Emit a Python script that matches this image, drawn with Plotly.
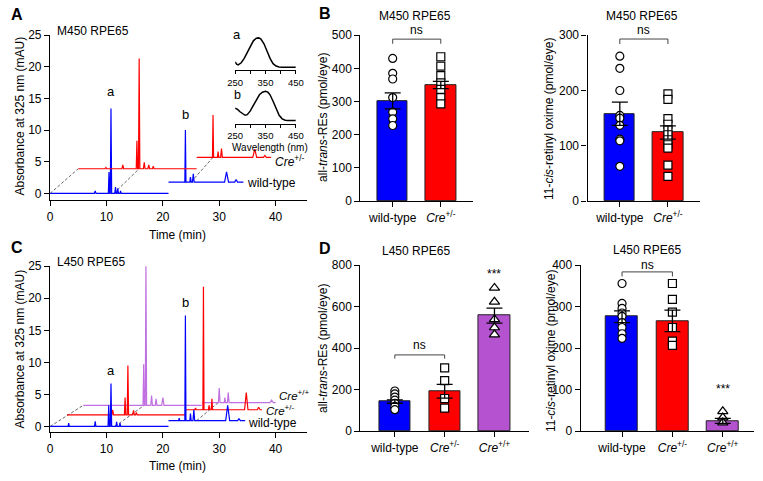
import plotly.graph_objects as go

W, H = 763, 481
FONT = "Liberation Sans, Arial, sans-serif"
BLUE = "#0000ff"
RED = "#ff0000"
PURPLE_BAR = "#b452d0"
PURPLE_LINE = "#c070e0"

# ---------------- Chromatogram data (time min, absorbance mAU) ----------------
# segment: start, end, baseline, peaks [(time, top, halfwidth)]
A_wt_seg1 = (0.0, 21.0, 0.0, [(8.0, 0.4, 0.15), (10.45, 3.4, 0.12), (10.8, 13.4, 0.12),
                               (11.6, 1.0, 0.12), (12.0, 0.8, 0.12), (12.5, 0.4, 0.12)])
A_wt_seg2 = (21.0, 34.3, 1.8, [(24.0, 10.0, 0.1), (24.9, 2.6, 0.12), (25.4, 3.1, 0.15),
                                (31.3, 3.4, 0.35), (33.0, 2.2, 0.25)])
A_cre_seg1 = (5.0, 26.0, 3.9, [(9.9, 4.1, 0.15), (12.9, 4.5, 0.15), (15.4, 8.3, 0.12), (15.8, 21.3, 0.12),
                                (16.7, 4.9, 0.15), (17.5, 4.5, 0.15), (18.3, 4.3, 0.15)])
A_cre_seg2 = (26.0, 39.2, 5.7, [(28.9, 12.4, 0.1), (29.8, 6.6, 0.12), (30.4, 7.1, 0.15),
                                 (36.3, 7.0, 0.35), (38.1, 6.0, 0.25)])

C_wt_seg1 = (0.0, 21.0, 0.0, [(3.3, 0.5, 0.1), (8.0, 0.8, 0.12), (10.4, 3.3, 0.12), (10.8, 6.7, 0.12),
                               (11.8, 0.7, 0.12), (12.4, 0.5, 0.12)])
C_wt_seg2 = (21.0, 34.6, 0.9, [(22.9, 1.3, 0.1), (24.0, 17.3, 0.1), (24.9, 2.0, 0.12), (25.5, 2.6, 0.15),
                                (31.5, 3.3, 0.35), (33.5, 1.2, 0.25)])
C_het_seg1 = (3.0, 24.0, 1.8, [(11.1, 2.6, 0.15), (13.3, 4.5, 0.12), (13.8, 9.5, 0.12),
                                (14.8, 2.5, 0.15), (15.3, 2.2, 0.15)])
C_het_seg2 = (24.0, 37.6, 2.6, [(25.8, 2.9, 0.12), (27.2, 21.8, 0.1), (28.2, 3.3, 0.12), (28.7, 4.3, 0.12),
                                 (34.8, 5.3, 0.3), (37.0, 3.0, 0.25)])
C_hom_seg1 = (5.9, 26.9, 3.3, [(16.6, 9.7, 0.12), (17.0, 25.3, 0.12), (18.0, 4.8, 0.15),
                                (18.8, 4.3, 0.15), (20.0, 4.5, 0.2)])
C_hom_seg2 = (26.9, 40.0, 3.7, [(30.0, 6.0, 0.15), (31.0, 4.5, 0.12), (31.6, 5.3, 0.15), (39.3, 4.1, 0.3)])

# dashed guide lines (time, absorbance) pairs
A_guides = [((0.0, 0.0), (5.0, 3.9)), ((11.3, 0.0), (15.8, 3.9)), ((25.0, 1.8), (28.9, 5.7))]
C_guides = [((0.0, 0.0), (5.9, 3.3)), ((11.5, 0.0), (16.7, 3.3)), ((26.0, 0.9), (29.8, 3.7))]

time_ticks = [0, 10, 20, 30, 40]
abs_ticks = [0, 5, 10, 15, 20, 25]

# inset spectra (wavelength nm, normalized absorbance)
wl_a = [250, 255, 260, 270, 280, 290, 300, 310, 320, 328, 335, 345, 355, 365, 375, 385, 395, 405, 450]
sp_a = [0.18, 0.1, 0.08, 0.15, 0.3, 0.5, 0.72, 0.9, 0.99, 1.0, 0.96, 0.8, 0.55, 0.3, 0.12, 0.04, 0.01, 0.0, 0.0]
wl_b = [250, 258, 266, 275, 283, 290, 300, 310, 320, 330, 340, 350, 358, 365, 375, 385, 395, 405, 415, 425, 450]
sp_b = [0.42, 0.38, 0.3, 0.22, 0.18, 0.2, 0.33, 0.52, 0.72, 0.88, 0.97, 1.0, 0.97, 0.88, 0.66, 0.4, 0.18, 0.06, 0.01, 0.0, 0.0]
wl_ticks = [250, 350, 450]

# ---------------- Bar chart data ----------------
cats2 = ["wild-type", "<i>Cre</i><sup>+/-</sup>"]
cats3 = ["wild-type", "<i>Cre</i><sup>+/-</sup>", "<i>Cre</i><sup>+/+</sup>"]

B_re_mean = [302, 350]
B_re_sem = [24, 11]
B_re_pts = [[430, 385, 368, 312, 268, 248, 228],
            [435, 407, 378, 356, 337, 312, 293]]
B_ox_mean = [158, 124]
B_ox_sem = [21, 12]
B_ox_pts = [[262, 240, 200, 155, 150, 137, 112, 109, 63],
            [194, 184, 149, 139, 129, 120, 111, 102, 96, 65, 45]]
D_re_mean = [143, 193, 557]
D_re_sem = [8, 33, 36]
D_re_pts = [[194, 180, 165, 150, 135, 120, 104],
            [306, 244, 158, 112],
            [691, 624, 539, 500, 466]]
D_ox_mean = [276, 266, 25]
D_ox_sem = [14, 26, 6]
D_ox_pts = [[356, 308, 296, 285, 277, 262, 250, 235, 224],
            [356, 318, 287, 250, 217, 207],
            [48, 33, 21]]

# ---------------- helpers ----------------
def px(x):
    return x / W

def py(y):
    return 1 - y / H

def seg_xy(seg):
    start, end, base, peaks = seg
    xs, ys = [start], [base]
    for t, top, hw in peaks:
        xs += [t - hw, t, t + hw]
        ys += [base, top, base]
    xs.append(end)
    ys.append(base)
    return xs, ys

fig = go.Figure()
ann = []

def add_line(xs, ys, color, xa, ya, width=1.2, dash=None):
    fig.add_trace(go.Scatter(x=xs, y=ys, mode="lines", xaxis=xa, yaxis=ya,
                             line=dict(color=color, width=width, dash=dash),
                             hoverinfo="skip", showlegend=False))

# Panel A chromatogram
for (p0, p1) in A_guides:
    add_line([p0[0], p1[0]], [p0[1], p1[1]], "#555555", "x", "y", width=0.9, dash="3px,2px")
for seg, col in [(A_wt_seg1, BLUE), (A_wt_seg2, BLUE), (A_cre_seg1, RED), (A_cre_seg2, RED)]:
    xs, ys = seg_xy(seg)
    add_line(xs, ys, col, "x", "y")
# Panel C chromatogram
for (p0, p1) in C_guides:
    add_line([p0[0], p1[0]], [p0[1], p1[1]], "#555555", "x2", "y2", width=0.9, dash="3px,2px")
for seg, col in [(C_hom_seg1, PURPLE_LINE), (C_hom_seg2, PURPLE_LINE), (C_het_seg1, RED),
                 (C_het_seg2, RED), (C_wt_seg1, BLUE), (C_wt_seg2, BLUE)]:
    xs, ys = seg_xy(seg)
    add_line(xs, ys, col, "x2", "y2")
# insets
add_line(wl_a, sp_a, "black", "x3", "y3", width=1.5)
add_line(wl_b, sp_b, "black", "x4", "y4", width=1.5)

# bar panels
def bar_panel(xa, ya, means, sems, pts, colors, symbols):
    n = len(means)
    xs = list(range(n))
    fig.add_trace(go.Bar(x=xs, y=means, xaxis=xa, yaxis=ya, width=0.63,
                         marker=dict(color=colors, line=dict(color="#222222", width=1)),
                         hoverinfo="skip", showlegend=False))
    for i in range(n):
        fig.add_trace(go.Scatter(x=[i] * len(pts[i]), y=pts[i], mode="markers", xaxis=xa, yaxis=ya,
                                 marker=dict(symbol=symbols[i], size=8 if symbols[i] != "triangle-up" else 9,
                                             color="white", line=dict(color="black", width=1.2)),
                                 hoverinfo="skip", showlegend=False, cliponaxis=False))
    fig.add_trace(go.Scatter(x=xs, y=means, mode="markers", xaxis=xa, yaxis=ya,
                             marker=dict(size=1, color="rgba(0,0,0,0)"),
                             error_y=dict(type="data", array=sems, color="black", thickness=1.3, width=8),
                             hoverinfo="skip", showlegend=False, cliponaxis=False))

bar_panel("x5", "y5", B_re_mean, B_re_sem, B_re_pts, [BLUE, RED], ["circle", "square"])
bar_panel("x6", "y6", B_ox_mean, B_ox_sem, B_ox_pts, [BLUE, RED], ["circle", "square"])
bar_panel("x7", "y7", D_re_mean, D_re_sem, D_re_pts, [BLUE, RED, PURPLE_BAR], ["circle", "square", "triangle-up"])
bar_panel("x8", "y8", D_ox_mean, D_ox_sem, D_ox_pts, [BLUE, RED, PURPLE_BAR], ["circle", "square", "triangle-up"])

# ---------------- axes ----------------
axis_common = dict(showline=True, linecolor="black", linewidth=1.3, ticks="outside", ticklen=5,
                   tickwidth=1.3, tickcolor="black", showgrid=False, zeroline=False,
                   tickfont=dict(size=12, family=FONT, color="black"))

lay = dict(width=W, height=H, margin=dict(l=0, r=0, t=0, b=0), paper_bgcolor="white",
           plot_bgcolor="rgba(0,0,0,0)", showlegend=False, bargap=0)

Y_DOMAIN = {}
def set_y(name, dom, rng, **kw):
    lay[name] = dict(axis_common, domain=dom, range=rng, **kw)
    Y_DOMAIN[name] = (dom, rng)

# A
lay["xaxis"] = dict(axis_common, domain=[px(43), px(305)], range=[0, 45.5], tickvals=time_ticks, anchor="y")
set_y("yaxis", [py(199), py(29)], [-1.07, 25], tickvals=abs_ticks, anchor="x")
# C
lay["xaxis2"] = dict(axis_common, domain=[px(43), px(305)], range=[0, 45.5], tickvals=time_ticks, anchor="y2")
set_y("yaxis2", [py(438), py(267)], [-0.91, 25], tickvals=abs_ticks, anchor="x2")
# insets
inset_x = dict(axis_common, range=[250, 450], tickvals=wl_ticks, ticklen=3,
               tickwidth=1, linewidth=1.2, tickfont=dict(size=9.5, family=FONT, color="black"),
               minor=dict(tick0=250, dtick=50, ticks="outside", ticklen=3, tickwidth=1, tickcolor="black",
                          showgrid=False))
lay["xaxis3"] = dict(inset_x, domain=[px(232), px(294)], anchor="y3")
lay["yaxis3"] = dict(visible=False, domain=[py(65), py(30)], range=[-0.1, 1.06], anchor="x3")
lay["xaxis4"] = dict(inset_x, domain=[px(232), px(294)], anchor="y4")
lay["yaxis4"] = dict(visible=False, domain=[py(120), py(85)], range=[-0.1, 1.06], anchor="x4")
# B
lay["xaxis5"] = dict(axis_common, domain=[px(360), px(475)], range=[-0.67, 1.67], tickvals=[0, 1], ticktext=cats2, anchor="y5")
set_y("yaxis5", [py(200), py(29)], [0, 500], tickvals=[0, 100, 200, 300, 400, 500], anchor="x5")
lay["xaxis6"] = dict(axis_common, domain=[px(592), px(707)], range=[-0.67, 1.67], tickvals=[0, 1], ticktext=cats2, anchor="y6")
set_y("yaxis6", [py(200), py(29)], [0, 300], tickvals=[0, 100, 200, 300], anchor="x6")
# D
lay["xaxis7"] = dict(axis_common, domain=[px(360), px(532)], range=[-0.69, 2.69], tickvals=[0, 1, 2], ticktext=cats3, anchor="y7")
set_y("yaxis7", [py(437), py(266)], [0, 800], tickvals=[0, 200, 400, 600, 800], anchor="x7")
lay["xaxis8"] = dict(axis_common, domain=[px(585), px(762)], range=[-0.82, 2.62], tickvals=[0, 1, 2], ticktext=cats3, anchor="y8")
set_y("yaxis8", [py(437), py(266)], [0, 400], tickvals=[0, 100, 200, 300, 400], anchor="x8")

def y_to_paper(yaxis_name, v):
    (d0, d1), (r0, r1) = Y_DOMAIN[yaxis_name]
    return d0 + (v - r0) / (r1 - r0) * (d1 - d0)

# significance brackets and stars
def bracket(xa, yname, x0, x1, ylow, yhigh, text, ytext):
    ya = "y" + yname[5:]
    fig.add_trace(go.Scatter(x=[x0, x0, x1, x1], y=[ylow, yhigh, yhigh, ylow], mode="lines",
                             xaxis=xa, yaxis=ya, line=dict(color="#444444", width=1),
                             hoverinfo="skip", showlegend=False, cliponaxis=False))
    ann.append(dict(x=(x0 + x1) / 2, y=y_to_paper(yname, ytext), xref=xa, yref="paper", text=text,
                    showarrow=False, font=dict(size=12, family=FONT, color="black"), yanchor="middle"))

bracket("x5", "yaxis5", 0, 1, 474, 488, "ns", 516)
bracket("x6", "yaxis6", 0, 1, 284, 293, "ns", 310)
bracket("x7", "yaxis7", 0, 1, 350, 368, "ns", 414)
bracket("x8", "yaxis8", 0, 1, 373, 384, "ns", 400)
ann.append(dict(x=2, y=y_to_paper("yaxis7", 756), xref="x7", yref="paper", text="***", showarrow=False,
                font=dict(size=12, family=FONT, color="black")))
ann.append(dict(x=2, y=y_to_paper("yaxis8", 81), xref="x8", yref="paper", text="***", showarrow=False,
                font=dict(size=12, family=FONT, color="black")))

# ---------------- text annotations ----------------
def txt(x, y, text, size=12, xanchor="center", yanchor="middle", angle=0, bold=False, ref=("paper", "paper")):
    t = f"<b>{text}</b>" if bold else text
    ann.append(dict(x=x, y=y, xref=ref[0], yref=ref[1], text=t, showarrow=False, xanchor=xanchor,
                    yanchor=yanchor, textangle=angle, font=dict(size=size, family=FONT, color="black")))

txt(px(1), py(8), "A", size=16, xanchor="left", bold=True)
txt(px(316), py(7), "B", size=16, xanchor="left", bold=True)
txt(px(1), py(248), "C", size=16, xanchor="left", bold=True)
txt(px(316), py(249), "D", size=16, xanchor="left", bold=True)

txt(px(48), py(25), "M450 RPE65", xanchor="left")
txt(px(48), py(263), "L450 RPE65", xanchor="left")
txt(px(416), py(9), "M450 RPE65")
txt(px(648), py(9), "M450 RPE65")
txt(px(417), py(251), "L450 RPE65")
txt(px(653), py(250), "L450 RPE65")

txt(px(12), py(112), "Absorbance at 325 nm (mAU)", angle=-90)
txt(px(12), py(352), "Absorbance at 325 nm (mAU)", angle=-90)
txt(px(321), py(114), "all-<i>trans</i>-REs (pmol/eye)", angle=-90)
txt(px(552), py(115), "11-<i>cis</i>-retinyl oxime (pmol/eye)", angle=-90)
txt(px(322), py(352), "all-<i>trans</i>-REs (pmol/eye)", angle=-90)
txt(px(554), py(354), "11-<i>cis</i>-retinyl oxime (pmol/eye)", angle=-90)

txt(px(173), py(235), "Time (min)")
txt(px(173), py(473), "Time (min)")

# inset labels
txt(px(234), py(28), "a", size=13)
txt(px(234), py(91), "b", size=12.5)
txt(px(268), py(145), "Wavelength (nm)", size=10)

# chromatogram peak and trace labels
txt(10.8, 14.6, "a", size=13, yanchor="bottom", ref=("x", "y"))
txt(24.0, 10.9, "b", size=13, yanchor="bottom", ref=("x", "y"))
txt(39.5, 5.2, "<i>Cre</i><sup>+/-</sup>", xanchor="left", ref=("x", "y"))
txt(34.5, 1.7, "wild-type", xanchor="left", ref=("x", "y"))
txt(10.8, 7.2, "a", size=13, yanchor="bottom", ref=("x2", "y2"))
txt(24.0, 17.8, "b", size=13, yanchor="bottom", ref=("x2", "y2"))
txt(40.3, 4.9, "<i>Cre</i><sup>+/+</sup>", size=11.5, xanchor="left", ref=("x2", "y2"))
txt(37.9, 2.6, "<i>Cre</i><sup>+/-</sup>", size=11.5, xanchor="left", ref=("x2", "y2"))
txt(34.8, 0.5, "wild-type", xanchor="left", ref=("x2", "y2"))

lay["annotations"] = ann
lay["font"] = dict(family=FONT, color="black")
fig.update_layout(**lay)
fig.write_html("out.html", config={"displayModeBar": False},
               post_script="document.body.style.margin='0';document.body.style.overflow='hidden';")
